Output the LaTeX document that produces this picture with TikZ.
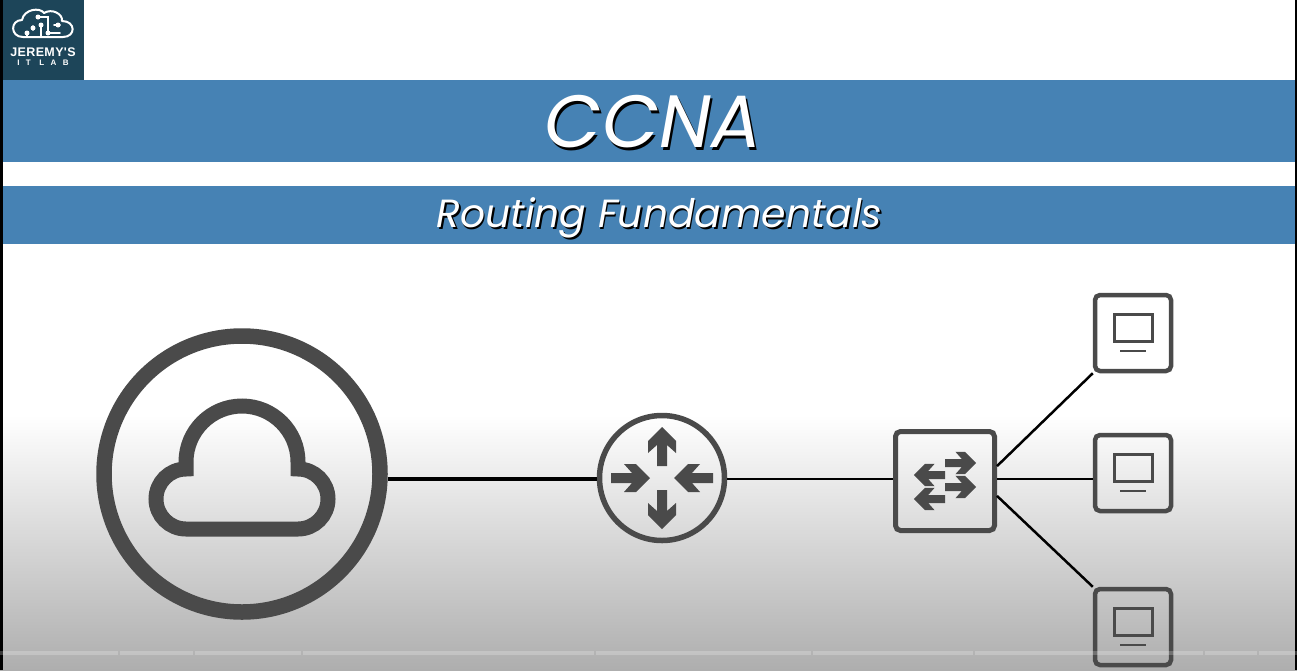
\documentclass[tikz,border=0pt]{standalone}
\usepackage{fontspec}
\newfontfamily\titlefont{Poppins}
\newfontfamily\logofont{Liberation Sans}
\usetikzlibrary{calc,positioning,shapes.geometric}
\definecolor{barblue}{HTML}{4682B4}
\definecolor{logoteal}{HTML}{1D4559}
\definecolor{icongrey}{HTML}{4A4A4A}
\definecolor{fadegrey}{HTML}{AEAEAE}
\tikzset{
  bar/.style={fill=barblue, draw=none},
  ring/.style={circle, draw=icongrey, inner sep=0pt},
  devbox/.style={draw=icongrey, rectangle, rounded corners=5pt, inner sep=0pt},
  pcbox/.style={devbox, line width=4.5pt, minimum size=76pt},
  screen/.style={draw=icongrey, line width=3pt, inner sep=0pt, minimum width=38pt, minimum height=27pt},
  screenbar/.style={draw=icongrey, line width=2.7pt},
  link/.style={draw=black, line width=2.5pt},
  iconfill/.style={fill=icongrey, draw=none},
  logoline/.style={draw=white, line width=1.6pt, line cap=round},
  logodot/.style={circle, fill=white, inner sep=0pt, minimum size=5pt},
  titletext/.style={inner sep=0pt, font=\titlefont\itshape\fontsize{74}{80}\selectfont},
  subtext/.style={inner sep=0pt, font=\titlefont\itshape\fontsize{39.3}{44}\selectfont}
}
% one flow arrow, tail at the origin
\newcommand{\flowarrow}[4]{%
  \fill[iconfill, shift={#1}, rotate=#2, xshift=#3, scale=#4]
    (0,-5) -- (21,-5) -- (13,-14) -- (25,-14) -- (39,0) -- (25,14) -- (13,14) -- (21,5) -- (0,5) -- cycle;}

\begin{document}
\begin{tikzpicture}[x=1pt,y=-1pt]
  \useasboundingbox (0,0) rectangle (1297,670);
  % backdrop
  \fill[white] (0,0) rectangle (1297,670);
  \shade[top color=white, bottom color=fadegrey] (0,415) rectangle (1297,670);
  \fill[black] (0,0) rectangle (3,670);
  \fill[black] (1295,0) rectangle (1297,670);
  % heading
  \fill[logoteal] (3,0) rectangle (84,80);
  \fill[bar] (3,80) rectangle (1295,162);
  \fill[bar] (3,186) rectangle (1295,244);
  \node[titletext, text=black] (ccnashade) at (655,124.5) {CCNA};
  \node[titletext, text=white] (ccna) at (653,122) {CCNA};
  \node[subtext, text=black] (subshade) at (661,219.5) {Routing Fundamentals};
  \node[subtext, text=white] (sub) at (659.5,218) {Routing Fundamentals};
  % logo
  \draw[draw=white, line width=2pt, line join=round]
    (23,37) .. controls (10,37) and (10,20) .. (22,20)
    .. controls (24,9) and (40,7) .. (44,13)
    .. controls (52,8) and (63,14) .. (62,21)
    .. controls (76,21) and (76,37) .. (63,37) -- cycle;
  \draw[logoline] (27,33) -- (27,37);
  \draw[logoline] (41,25) -- (41,37);
  \draw[logoline] (33,30) -- (33,26);
  \draw[logoline] (38,17) -- (48,17) -- (48,33) -- (60,33);
  \draw[logoline] (54,25) -- (60,25);
  \foreach \x/\y [count=\n] in {27/33,41/25,33/28,38/17,48/33,58/25} {
    \node[logodot] (lg\n) at (\x,\y) {};
  }
  \node[text=white, inner sep=0pt, font=\logofont\bfseries\fontsize{12.5}{14}\selectfont] (jeremy) at (43,52) {\addfontfeature{LetterSpace=3}JEREMY'S};
  \node[text=white, inner sep=0pt, font=\logofont\bfseries\fontsize{8}{9}\selectfont] (itlab) at (43,63) {\addfontfeature{LetterSpace=80}IT LAB};
  % devices
  \coordinate (trunk) at (0,479);
  \node[ring, line width=15.5pt, minimum size=276pt] (inet) at (242,474) {};
  \node[ring, line width=5.5pt, minimum size=125pt] (rtr) at (662,478) {};
  \node[devbox, line width=5pt, minimum size=99pt] (sw) at (945,481) {};
  \foreach \n/\y in {1/333,2/473,3/627} {
    \node[pcbox] (pc\n) at (1133,\y) {};
    \node[screen] (scr\n) at (1133,\y-5) {};
    \draw[screenbar] (1120,\y+18) -- (1146,\y+18);
  }
  % cloud
  \draw[icongrey, line width=15pt]
    (186,529) arc[start angle=90, end angle=270, radius=30]
    -- (186,462) arc[start angle=180, end angle=360, radius=56]
    -- (298,469) arc[start angle=270, end angle=450, radius=30] -- cycle;
  % router arrows
  \flowarrow{(rtr)}{90}{12pt}{1}
  \flowarrow{(rtr)}{-90}{12pt}{1}
  \flowarrow{(rtr)}{0}{-51pt}{1}
  \flowarrow{(rtr)}{180}{-51pt}{1}
  % switch arrows
  \flowarrow{($(sw)+(0,-18)$)}{0}{0pt}{.8}
  \flowarrow{($(sw)+(0,6)$)}{0}{0pt}{.8}
  \flowarrow{($(sw)+(0,-6)$)}{180}{0pt}{.8}
  \flowarrow{($(sw)+(0,18)$)}{180}{0pt}{.8}
  % links
  \draw[link, line width=3.5pt] (trunk -| inet.east) -- (trunk -| rtr.west);
  \draw[link] (trunk -| rtr.east) -- (trunk -| sw.west);
  \draw[link] (sw.16) -- (pc1.south west);
  \draw[link] (trunk -| sw.east) -- (trunk -| pc2.west);
  \draw[link] (sw.-16) -- (pc3.north west);
  % player bar
  \foreach \a/\b in {0/118,119.5/193,194.5/301,302.5/594,595.5/811,812.5/973,974.5/1203,1204.5/1257,1258.5/1297} {
    \fill[white, opacity=.22] (\a,651) rectangle (\b,655);
  }
\end{tikzpicture}
\end{document}
